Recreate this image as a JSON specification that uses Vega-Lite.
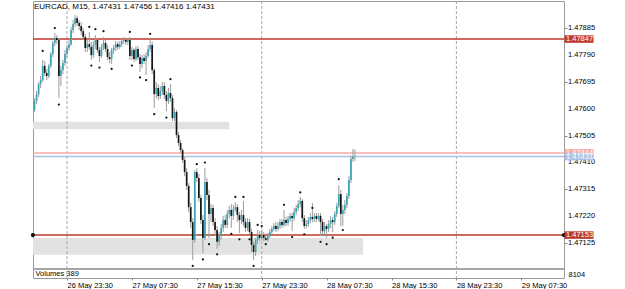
{
"$schema":"https://vega.github.io/schema/vega-lite/v6.json",
"width":531,"height":277,
"autosize":{"type":"none"},
"padding":{"left":33,"top":1,"right":61,"bottom":11},
"background":"white",
"config":{"view":{"stroke":"#9a9a9a","strokeWidth":1},"font":"Liberation Sans","scale":{"continuousPadding":0}},
"title":{"text":"EURCAD, M15, 1.47431 1.47456 1.47416 1.47431","anchor":"start","frame":"group","offset":-10,"fontSize":8,"fontWeight":"normal","font":"Liberation Sans","color":"#000","dx":1},
"datasets":{
"candles":[
{"t":"2021-05-26T19:30Z","o":1.47596,"h":1.47638,"l":1.47589,"c":1.47628},
{"t":"2021-05-26T19:45Z","o":1.47628,"h":1.47663,"l":1.47617,"c":1.47652},
{"t":"2021-05-26T20:00Z","o":1.47652,"h":1.47695,"l":1.47642,"c":1.47688},
{"t":"2021-05-26T20:15Z","o":1.47688,"h":1.47716,"l":1.47674,"c":1.47702},
{"t":"2021-05-26T20:30Z","o":1.47702,"h":1.47773,"l":1.47695,"c":1.47752},
{"t":"2021-05-26T20:45Z","o":1.47752,"h":1.47769,"l":1.47716,"c":1.47727},
{"t":"2021-05-26T21:00Z","o":1.47727,"h":1.47741,"l":1.47702,"c":1.47716},
{"t":"2021-05-26T21:15Z","o":1.47716,"h":1.47759,"l":1.47709,"c":1.47752},
{"t":"2021-05-26T21:30Z","o":1.47752,"h":1.47801,"l":1.47744,"c":1.47794},
{"t":"2021-05-26T21:45Z","o":1.47794,"h":1.47840,"l":1.47783,"c":1.47833},
{"t":"2021-05-26T22:00Z","o":1.47833,"h":1.47868,"l":1.47822,"c":1.47851},
{"t":"2021-05-26T22:15Z","o":1.47851,"h":1.47861,"l":1.47829,"c":1.47844},
{"t":"2021-05-26T22:30Z","o":1.47844,"h":1.47851,"l":1.47638,"c":1.47716},
{"t":"2021-05-26T22:45Z","o":1.47716,"h":1.47752,"l":1.47681,"c":1.47737},
{"t":"2021-05-26T23:00Z","o":1.47737,"h":1.47773,"l":1.47723,"c":1.47762},
{"t":"2021-05-26T23:15Z","o":1.47762,"h":1.47808,"l":1.47752,"c":1.47794},
{"t":"2021-05-26T23:30Z","o":1.47794,"h":1.47826,"l":1.47783,"c":1.47815},
{"t":"2021-05-26T23:45Z","o":1.47815,"h":1.47844,"l":1.47805,"c":1.47829},
{"t":"2021-05-27T00:00Z","o":1.47829,"h":1.47890,"l":1.47822,"c":1.47879},
{"t":"2021-05-27T00:15Z","o":1.47879,"h":1.47914,"l":1.47868,"c":1.47900},
{"t":"2021-05-27T00:30Z","o":1.47900,"h":1.47932,"l":1.47890,"c":1.47921},
{"t":"2021-05-27T00:45Z","o":1.47921,"h":1.47929,"l":1.47893,"c":1.47904},
{"t":"2021-05-27T01:00Z","o":1.47904,"h":1.47914,"l":1.47879,"c":1.47893},
{"t":"2021-05-27T01:15Z","o":1.47893,"h":1.47907,"l":1.47861,"c":1.47875},
{"t":"2021-05-27T01:30Z","o":1.47875,"h":1.47886,"l":1.47844,"c":1.47854},
{"t":"2021-05-27T01:45Z","o":1.47854,"h":1.47865,"l":1.47801,"c":1.47815},
{"t":"2021-05-27T02:00Z","o":1.47815,"h":1.47844,"l":1.47801,"c":1.47829},
{"t":"2021-05-27T02:15Z","o":1.47829,"h":1.47872,"l":1.47808,"c":1.47819},
{"t":"2021-05-27T02:30Z","o":1.47819,"h":1.47837,"l":1.47773,"c":1.47790},
{"t":"2021-05-27T02:45Z","o":1.47790,"h":1.47840,"l":1.47780,"c":1.47826},
{"t":"2021-05-27T03:00Z","o":1.47826,"h":1.47861,"l":1.47812,"c":1.47844},
{"t":"2021-05-27T03:15Z","o":1.47844,"h":1.47851,"l":1.47798,"c":1.47808},
{"t":"2021-05-27T03:30Z","o":1.47808,"h":1.47819,"l":1.47766,"c":1.47787},
{"t":"2021-05-27T03:45Z","o":1.47787,"h":1.47829,"l":1.47780,"c":1.47819},
{"t":"2021-05-27T04:00Z","o":1.47819,"h":1.47854,"l":1.47808,"c":1.47833},
{"t":"2021-05-27T04:15Z","o":1.47833,"h":1.47844,"l":1.47801,"c":1.47812},
{"t":"2021-05-27T04:30Z","o":1.47812,"h":1.47826,"l":1.47773,"c":1.47783},
{"t":"2021-05-27T04:45Z","o":1.47783,"h":1.47801,"l":1.47762,"c":1.47776},
{"t":"2021-05-27T05:00Z","o":1.47776,"h":1.47815,"l":1.47759,"c":1.47808},
{"t":"2021-05-27T05:15Z","o":1.47808,"h":1.47826,"l":1.47794,"c":1.47815},
{"t":"2021-05-27T05:30Z","o":1.47815,"h":1.47840,"l":1.47805,"c":1.47829},
{"t":"2021-05-27T05:45Z","o":1.47829,"h":1.47837,"l":1.47808,"c":1.47819},
{"t":"2021-05-27T06:00Z","o":1.47819,"h":1.47840,"l":1.47812,"c":1.47829},
{"t":"2021-05-27T06:15Z","o":1.47829,"h":1.47851,"l":1.47819,"c":1.47840},
{"t":"2021-05-27T06:30Z","o":1.47840,"h":1.47854,"l":1.47829,"c":1.47844},
{"t":"2021-05-27T06:45Z","o":1.47844,"h":1.47851,"l":1.47826,"c":1.47837},
{"t":"2021-05-27T07:00Z","o":1.47837,"h":1.47851,"l":1.47826,"c":1.47844},
{"t":"2021-05-27T07:15Z","o":1.47844,"h":1.47854,"l":1.47773,"c":1.47787},
{"t":"2021-05-27T07:30Z","o":1.47787,"h":1.47819,"l":1.47773,"c":1.47808},
{"t":"2021-05-27T07:45Z","o":1.47808,"h":1.47815,"l":1.47766,"c":1.47776},
{"t":"2021-05-27T08:00Z","o":1.47776,"h":1.47822,"l":1.47769,"c":1.47812},
{"t":"2021-05-27T08:15Z","o":1.47812,"h":1.47822,"l":1.47773,"c":1.47783},
{"t":"2021-05-27T08:30Z","o":1.47783,"h":1.47794,"l":1.47730,"c":1.47759},
{"t":"2021-05-27T08:45Z","o":1.47759,"h":1.47790,"l":1.47744,"c":1.47780},
{"t":"2021-05-27T09:00Z","o":1.47780,"h":1.47794,"l":1.47759,"c":1.47769},
{"t":"2021-05-27T09:15Z","o":1.47769,"h":1.47801,"l":1.47720,"c":1.47787},
{"t":"2021-05-27T09:30Z","o":1.47787,"h":1.47826,"l":1.47780,"c":1.47812},
{"t":"2021-05-27T09:45Z","o":1.47812,"h":1.47851,"l":1.47801,"c":1.47826},
{"t":"2021-05-27T10:00Z","o":1.47826,"h":1.47837,"l":1.47723,"c":1.47737},
{"t":"2021-05-27T10:15Z","o":1.47737,"h":1.47744,"l":1.47603,"c":1.47652},
{"t":"2021-05-27T10:30Z","o":1.47652,"h":1.47695,"l":1.47638,"c":1.47674},
{"t":"2021-05-27T10:45Z","o":1.47674,"h":1.47688,"l":1.47631,"c":1.47645},
{"t":"2021-05-27T11:00Z","o":1.47645,"h":1.47681,"l":1.47635,"c":1.47663},
{"t":"2021-05-27T11:15Z","o":1.47663,"h":1.47695,"l":1.47649,"c":1.47681},
{"t":"2021-05-27T11:30Z","o":1.47681,"h":1.47695,"l":1.47635,"c":1.47649},
{"t":"2021-05-27T11:45Z","o":1.47649,"h":1.47663,"l":1.47592,"c":1.47628},
{"t":"2021-05-27T12:00Z","o":1.47628,"h":1.47674,"l":1.47617,"c":1.47656},
{"t":"2021-05-27T12:15Z","o":1.47656,"h":1.47688,"l":1.47624,"c":1.47638},
{"t":"2021-05-27T12:30Z","o":1.47638,"h":1.47649,"l":1.47557,"c":1.47567},
{"t":"2021-05-27T12:45Z","o":1.47567,"h":1.47603,"l":1.47557,"c":1.47589},
{"t":"2021-05-27T13:00Z","o":1.47589,"h":1.47596,"l":1.47497,"c":1.47507},
{"t":"2021-05-27T13:15Z","o":1.47507,"h":1.47518,"l":1.47468,"c":1.47479},
{"t":"2021-05-27T13:30Z","o":1.47479,"h":1.47490,"l":1.47444,"c":1.47454},
{"t":"2021-05-27T13:45Z","o":1.47454,"h":1.47461,"l":1.47408,"c":1.47419},
{"t":"2021-05-27T14:00Z","o":1.47419,"h":1.47429,"l":1.47362,"c":1.47376},
{"t":"2021-05-27T14:15Z","o":1.47376,"h":1.47390,"l":1.47313,"c":1.47327},
{"t":"2021-05-27T14:30Z","o":1.47327,"h":1.47337,"l":1.47235,"c":1.47252},
{"t":"2021-05-27T14:45Z","o":1.47252,"h":1.47267,"l":1.47178,"c":1.47199},
{"t":"2021-05-27T15:00Z","o":1.47199,"h":1.47213,"l":1.47065,"c":1.47136},
{"t":"2021-05-27T15:15Z","o":1.47136,"h":1.47383,"l":1.47125,"c":1.47376},
{"t":"2021-05-27T15:30Z","o":1.47376,"h":1.47390,"l":1.47341,"c":1.47355},
{"t":"2021-05-27T15:45Z","o":1.47355,"h":1.47369,"l":1.47270,"c":1.47284},
{"t":"2021-05-27T16:00Z","o":1.47284,"h":1.47295,"l":1.47192,"c":1.47206},
{"t":"2021-05-27T16:15Z","o":1.47206,"h":1.47224,"l":1.47090,"c":1.47143},
{"t":"2021-05-27T16:30Z","o":1.47143,"h":1.47390,"l":1.47136,"c":1.47341},
{"t":"2021-05-27T16:45Z","o":1.47341,"h":1.47355,"l":1.47277,"c":1.47295},
{"t":"2021-05-27T17:00Z","o":1.47295,"h":1.47313,"l":1.47143,"c":1.47228},
{"t":"2021-05-27T17:15Z","o":1.47228,"h":1.47263,"l":1.47199,"c":1.47249},
{"t":"2021-05-27T17:30Z","o":1.47249,"h":1.47260,"l":1.47185,"c":1.47199},
{"t":"2021-05-27T17:45Z","o":1.47199,"h":1.47213,"l":1.47150,"c":1.47171},
{"t":"2021-05-27T18:00Z","o":1.47171,"h":1.47185,"l":1.47104,"c":1.47129},
{"t":"2021-05-27T18:15Z","o":1.47129,"h":1.47164,"l":1.47114,"c":1.47150},
{"t":"2021-05-27T18:30Z","o":1.47150,"h":1.47192,"l":1.47136,"c":1.47178},
{"t":"2021-05-27T18:45Z","o":1.47178,"h":1.47221,"l":1.47164,"c":1.47206},
{"t":"2021-05-27T19:00Z","o":1.47206,"h":1.47224,"l":1.47178,"c":1.47189},
{"t":"2021-05-27T19:15Z","o":1.47189,"h":1.47242,"l":1.47178,"c":1.47228},
{"t":"2021-05-27T19:30Z","o":1.47228,"h":1.47256,"l":1.47213,"c":1.47242},
{"t":"2021-05-27T19:45Z","o":1.47242,"h":1.47263,"l":1.47178,"c":1.47221},
{"t":"2021-05-27T20:00Z","o":1.47221,"h":1.47260,"l":1.47206,"c":1.47245},
{"t":"2021-05-27T20:15Z","o":1.47245,"h":1.47270,"l":1.47235,"c":1.47252},
{"t":"2021-05-27T20:30Z","o":1.47252,"h":1.47263,"l":1.47199,"c":1.47224},
{"t":"2021-05-27T20:45Z","o":1.47224,"h":1.47235,"l":1.47160,"c":1.47206},
{"t":"2021-05-27T21:00Z","o":1.47206,"h":1.47242,"l":1.47192,"c":1.47224},
{"t":"2021-05-27T21:15Z","o":1.47224,"h":1.47274,"l":1.47185,"c":1.47199},
{"t":"2021-05-27T21:30Z","o":1.47199,"h":1.47213,"l":1.47164,"c":1.47178},
{"t":"2021-05-27T21:45Z","o":1.47178,"h":1.47213,"l":1.47167,"c":1.47199},
{"t":"2021-05-27T22:00Z","o":1.47199,"h":1.47210,"l":1.47157,"c":1.47164},
{"t":"2021-05-27T22:15Z","o":1.47164,"h":1.47175,"l":1.47093,"c":1.47118},
{"t":"2021-05-27T22:30Z","o":1.47118,"h":1.47129,"l":1.47065,"c":1.47093},
{"t":"2021-05-27T22:45Z","o":1.47093,"h":1.47143,"l":1.47079,"c":1.47136},
{"t":"2021-05-27T23:00Z","o":1.47136,"h":1.47171,"l":1.47121,"c":1.47153},
{"t":"2021-05-27T23:15Z","o":1.47153,"h":1.47167,"l":1.47132,"c":1.47143},
{"t":"2021-05-27T23:30Z","o":1.47143,"h":1.47171,"l":1.47136,"c":1.47153},
{"t":"2021-05-27T23:45Z","o":1.47153,"h":1.47164,"l":1.47132,"c":1.47143},
{"t":"2021-05-28T00:00Z","o":1.47143,"h":1.47153,"l":1.47132,"c":1.47136},
{"t":"2021-05-28T00:15Z","o":1.47136,"h":1.47160,"l":1.47129,"c":1.47150},
{"t":"2021-05-28T00:30Z","o":1.47150,"h":1.47175,"l":1.47143,"c":1.47164},
{"t":"2021-05-28T00:45Z","o":1.47164,"h":1.47185,"l":1.47157,"c":1.47175},
{"t":"2021-05-28T01:00Z","o":1.47175,"h":1.47196,"l":1.47167,"c":1.47185},
{"t":"2021-05-28T01:15Z","o":1.47185,"h":1.47199,"l":1.47164,"c":1.47175},
{"t":"2021-05-28T01:30Z","o":1.47175,"h":1.47199,"l":1.47167,"c":1.47185},
{"t":"2021-05-28T01:45Z","o":1.47185,"h":1.47210,"l":1.47175,"c":1.47199},
{"t":"2021-05-28T02:00Z","o":1.47199,"h":1.47210,"l":1.47178,"c":1.47189},
{"t":"2021-05-28T02:15Z","o":1.47189,"h":1.47242,"l":1.47182,"c":1.47206},
{"t":"2021-05-28T02:30Z","o":1.47206,"h":1.47217,"l":1.47185,"c":1.47196},
{"t":"2021-05-28T02:45Z","o":1.47196,"h":1.47221,"l":1.47185,"c":1.47210},
{"t":"2021-05-28T03:00Z","o":1.47210,"h":1.47231,"l":1.47199,"c":1.47221},
{"t":"2021-05-28T03:15Z","o":1.47221,"h":1.47231,"l":1.47167,"c":1.47213},
{"t":"2021-05-28T03:30Z","o":1.47213,"h":1.47249,"l":1.47203,"c":1.47235},
{"t":"2021-05-28T03:45Z","o":1.47235,"h":1.47260,"l":1.47224,"c":1.47249},
{"t":"2021-05-28T04:00Z","o":1.47249,"h":1.47277,"l":1.47238,"c":1.47263},
{"t":"2021-05-28T04:15Z","o":1.47263,"h":1.47288,"l":1.47252,"c":1.47274},
{"t":"2021-05-28T04:30Z","o":1.47274,"h":1.47281,"l":1.47199,"c":1.47213},
{"t":"2021-05-28T04:45Z","o":1.47213,"h":1.47224,"l":1.47175,"c":1.47185},
{"t":"2021-05-28T05:00Z","o":1.47185,"h":1.47206,"l":1.47178,"c":1.47192},
{"t":"2021-05-28T05:15Z","o":1.47192,"h":1.47217,"l":1.47182,"c":1.47206},
{"t":"2021-05-28T05:30Z","o":1.47206,"h":1.47231,"l":1.47196,"c":1.47217},
{"t":"2021-05-28T05:45Z","o":1.47217,"h":1.47267,"l":1.47199,"c":1.47210},
{"t":"2021-05-28T06:00Z","o":1.47210,"h":1.47231,"l":1.47199,"c":1.47221},
{"t":"2021-05-28T06:15Z","o":1.47221,"h":1.47231,"l":1.47199,"c":1.47210},
{"t":"2021-05-28T06:30Z","o":1.47210,"h":1.47231,"l":1.47203,"c":1.47221},
{"t":"2021-05-28T06:45Z","o":1.47221,"h":1.47231,"l":1.47150,"c":1.47199},
{"t":"2021-05-28T07:00Z","o":1.47199,"h":1.47210,"l":1.47153,"c":1.47167},
{"t":"2021-05-28T07:15Z","o":1.47167,"h":1.47199,"l":1.47157,"c":1.47185},
{"t":"2021-05-28T07:30Z","o":1.47185,"h":1.47192,"l":1.47143,"c":1.47175},
{"t":"2021-05-28T07:45Z","o":1.47175,"h":1.47206,"l":1.47164,"c":1.47192},
{"t":"2021-05-28T08:00Z","o":1.47192,"h":1.47221,"l":1.47178,"c":1.47206},
{"t":"2021-05-28T08:15Z","o":1.47206,"h":1.47217,"l":1.47164,"c":1.47199},
{"t":"2021-05-28T08:30Z","o":1.47199,"h":1.47238,"l":1.47189,"c":1.47228},
{"t":"2021-05-28T08:45Z","o":1.47228,"h":1.47267,"l":1.47217,"c":1.47256},
{"t":"2021-05-28T09:00Z","o":1.47256,"h":1.47330,"l":1.47249,"c":1.47298},
{"t":"2021-05-28T09:15Z","o":1.47298,"h":1.47313,"l":1.47185,"c":1.47228},
{"t":"2021-05-28T09:30Z","o":1.47228,"h":1.47260,"l":1.47185,"c":1.47242},
{"t":"2021-05-28T09:45Z","o":1.47242,"h":1.47277,"l":1.47228,"c":1.47260},
{"t":"2021-05-28T10:00Z","o":1.47260,"h":1.47302,"l":1.47249,"c":1.47291},
{"t":"2021-05-28T10:15Z","o":1.47291,"h":1.47362,"l":1.47281,"c":1.47348},
{"t":"2021-05-28T10:30Z","o":1.47348,"h":1.47433,"l":1.47337,"c":1.47422},
{"t":"2021-05-28T10:45Z","o":1.47422,"h":1.47458,"l":1.47412,"c":1.47431},
{"t":"2021-05-28T11:00Z","o":1.47431,"h":1.47456,"l":1.47416,"c":1.47431}
],
"fractals":[
{"t":"2021-05-26T20:30Z","p":1.47805},{"t":"2021-05-26T22:00Z","p":1.47886},{"t":"2021-05-27T02:15Z","p":1.47890},{"t":"2021-05-27T03:00Z","p":1.47882},{"t":"2021-05-27T04:00Z","p":1.47875},{"t":"2021-05-27T07:15Z","p":1.47872},{"t":"2021-05-27T09:45Z","p":1.47865},{"t":"2021-05-27T12:15Z","p":1.47705},{"t":"2021-05-27T15:30Z","p":1.47404},{"t":"2021-05-27T16:30Z","p":1.47410},{"t":"2021-05-27T20:15Z","p":1.47288},{"t":"2021-05-27T21:15Z","p":1.47288},{"t":"2021-05-27T23:00Z","p":1.47189},{"t":"2021-05-27T23:30Z","p":1.47185},{"t":"2021-05-28T02:15Z","p":1.47260},{"t":"2021-05-28T04:15Z","p":1.47304},{"t":"2021-05-28T05:45Z","p":1.47249},{"t":"2021-05-28T09:00Z","p":1.47351},
{"t":"2021-05-26T22:30Z","p":1.47615},{"t":"2021-05-27T02:30Z","p":1.47753},{"t":"2021-05-27T03:30Z","p":1.47746},{"t":"2021-05-27T05:00Z","p":1.47741},{"t":"2021-05-27T07:30Z","p":1.47753},{"t":"2021-05-27T08:30Z","p":1.47711},{"t":"2021-05-27T09:15Z","p":1.47702},{"t":"2021-05-27T10:15Z","p":1.47581},{"t":"2021-05-27T11:45Z","p":1.47569},{"t":"2021-05-27T15:00Z","p":1.47044},{"t":"2021-05-27T16:15Z","p":1.47067},{"t":"2021-05-27T17:00Z","p":1.47121},{"t":"2021-05-27T18:00Z","p":1.47085},{"t":"2021-05-27T19:45Z","p":1.47157},{"t":"2021-05-27T20:45Z","p":1.47138},{"t":"2021-05-27T22:00Z","p":1.47138},{"t":"2021-05-27T22:30Z","p":1.47044},{"t":"2021-05-28T00:00Z","p":1.47121},{"t":"2021-05-28T03:15Z","p":1.47146},{"t":"2021-05-28T04:45Z","p":1.47156},{"t":"2021-05-28T06:45Z","p":1.47129},{"t":"2021-05-28T07:30Z","p":1.47121},{"t":"2021-05-28T08:15Z","p":1.47144},{"t":"2021-05-28T09:30Z","p":1.47171}
],
"zones":[
{"t1":"2021-05-26T19:00Z","t2":"2021-05-27T19:30Z","p1":1.47528,"p2":1.47554},
{"t1":"2021-05-26T19:00Z","t2":"2021-05-28T12:00Z","p1":1.47083,"p2":1.47143}
],
"separators":[{"t":"2021-05-26T23:30Z"},{"t":"2021-05-27T23:30Z"},{"t":"2021-05-28T23:30Z"}],
"levels":[
{"name":"resistance","p":1.47847},
{"name":"support","p":1.47153},
{"name":"ask","p":1.47444},
{"name":"bid","p":1.47431}
],
"pricescale":[{"p":1.47885},{"p":1.47790},{"p":1.47695},{"p":1.47600},{"p":1.47505},{"p":1.47410},{"p":1.47315},{"p":1.47220},{"p":1.47125}],
"anchors":[{"t":"2021-05-26T19:18Z","p":1.47153},{"t":"2021-05-29T12:45Z","p":1.47153}]
},
"layer":[
{"data":{"name":"zones"},"mark":{"type":"rect","color":"#e2e2e2","clip":true},
 "encoding":{
  "x":{"field":"t1","type":"temporal","scale":{"type":"utc","padding":0,"domain":[{"year":2021,"month":5,"date":26,"hours":19,"minutes":18,"seconds":30,"utc":true},{"year":2021,"month":5,"date":29,"hours":12,"minutes":45,"seconds":48,"utc":true}]},
   "axis":{"values":[{"year":2021,"month":5,"date":26,"hours":23,"minutes":30,"utc":true},{"year":2021,"month":5,"date":27,"hours":7,"minutes":30,"utc":true},{"year":2021,"month":5,"date":27,"hours":15,"minutes":30,"utc":true},{"year":2021,"month":5,"date":27,"hours":23,"minutes":30,"utc":true},{"year":2021,"month":5,"date":28,"hours":7,"minutes":30,"utc":true},{"year":2021,"month":5,"date":28,"hours":15,"minutes":30,"utc":true},{"year":2021,"month":5,"date":28,"hours":23,"minutes":30,"utc":true},{"year":2021,"month":5,"date":29,"hours":7,"minutes":30,"utc":true}],
    "labelExpr":"utcFormat(datum.value, '%d %b %H:%M')","labelAlign":"left","labelDx":-4,"labelFontSize":7.5,"labelFont":"Liberation Sans","labelColor":"#000","labelPadding":1,"labelOverlap":false,"labelFlush":false,"tickSize":2,"tickColor":"#888","domain":false,"grid":false,
    "title":"Volumes 389","titleX":2,"titleY":-5,"titleAlign":"left","titleBaseline":"middle","titleFontSize":7.5,"titleFontWeight":"normal","titleFont":"Liberation Sans","titleColor":"#000"}},
  "x2":{"field":"t2"},
  "y":{"field":"p1","type":"quantitative","scale":{"domain":[1.470011,1.479817],"zero":false,"nice":false},
   "axis":{"orient":"right","values":[1.47885,1.4779,1.47695,1.476,1.47505,1.4741,1.47315,1.4722,1.47125],"labels":false,"tickSize":3,"tickColor":"#888","domain":false,"grid":false,
    "title":"8104","titleAngle":0,"titleX":4,"titleY":273,"titleAlign":"left","titleBaseline":"middle","titleFontSize":7.5,"titleFontWeight":"normal","titleFont":"Liberation Sans","titleColor":"#000"}},
  "y2":{"field":"p2"}}},
{"data":{"name":"separators"},"mark":{"type":"rule","color":"#a8a8a8","strokeDash":[3,2],"strokeWidth":1},
 "encoding":{"x":{"field":"t","type":"temporal"}}},
{"data":{"name":"levels"},"mark":{"type":"rule","clip":true},
 "encoding":{"y":{"datum":1.47033,"type":"quantitative"},"color":{"value":"#a0a0a0"},"strokeWidth":{"value":1}}},
{"data":{"name":"levels"},"mark":{"type":"rule","clip":true},
 "encoding":{"y":{"field":"p","type":"quantitative"},
  "color":{"field":"name","type":"nominal","scale":{"domain":["resistance","support","ask","bid"],"range":["#c0392b","#b83a2a","#f6aaa4","#a9c1e4"]},"legend":null},
  "strokeWidth":{"field":"name","type":"nominal","scale":{"domain":["resistance","support","ask","bid"],"range":[1.5,1.5,1,1]},"legend":null}}},
{"data":{"name":"candles"},"mark":{"type":"rule","color":"#9c9c9c","strokeWidth":1},
 "encoding":{"x":{"field":"t","type":"temporal"},"y":{"field":"l","type":"quantitative"},"y2":{"field":"h"}}},
{"data":{"name":"candles"},"mark":{"type":"bar","width":1.7},
 "encoding":{"x":{"field":"t","type":"temporal"},"y":{"field":"o","type":"quantitative"},"y2":{"field":"c"},
  "color":{"condition":{"test":"datum.c > datum.o","value":"#3aa5b5"},"value":"#151515"}}},
{"data":{"name":"fractals"},"mark":{"type":"point","filled":true,"size":5,"color":"#111","opacity":1},
 "encoding":{"x":{"field":"t","type":"temporal"},"y":{"field":"p","type":"quantitative"}}},
{"data":{"name":"anchors"},"mark":{"type":"point","filled":true,"size":18,"color":"#111","opacity":1},
 "encoding":{"x":{"field":"t","type":"temporal"},"y":{"field":"p","type":"quantitative"}}},
{"data":{"name":"pricescale"},"mark":{"type":"text","align":"left","baseline":"middle","fontSize":7.5,"font":"Liberation Sans","color":"#000","x":{"expr":"width+4"}},
 "encoding":{"y":{"field":"p","type":"quantitative"},"text":{"field":"p","type":"quantitative","format":".5f"}}},
{"data":{"name":"levels"},"mark":{"type":"point","filled":true,"opacity":1,"size":841,"shape":"M-1,-0.26H1V0.26H-1Z","x":{"expr":"width+15"}},
 "encoding":{"y":{"field":"p","type":"quantitative"},
  "color":{"field":"name","type":"nominal","scale":{"domain":["resistance","support","ask","bid"],"range":["#b0281c","#b0281c","#e8433a","#2d5a9c"]},"legend":null}}},
{"data":{"name":"levels"},"mark":{"type":"text","align":"left","baseline":"middle","fontSize":7.5,"font":"Liberation Sans","color":"#ffffff","x":{"expr":"width+2"}},
 "encoding":{"y":{"field":"p","type":"quantitative"},"text":{"field":"p","type":"quantitative","format":".5f"}}}
]
}
